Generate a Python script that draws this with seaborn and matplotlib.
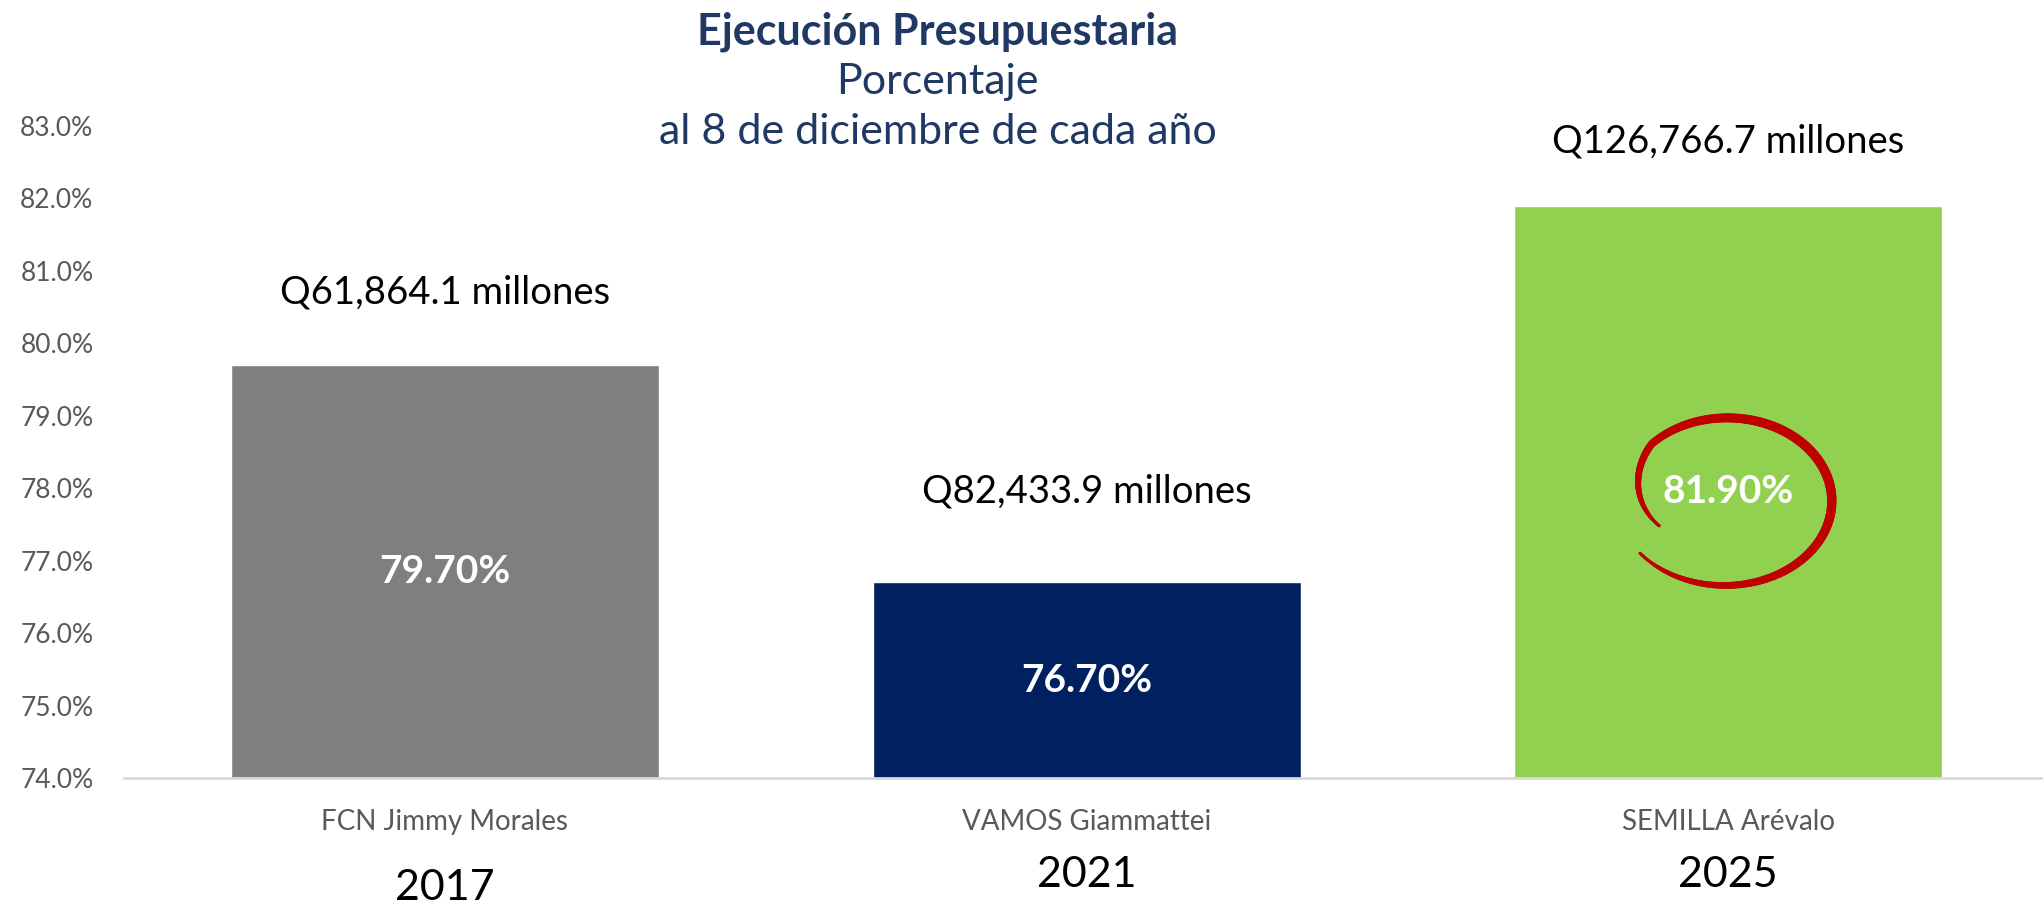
import numpy as np
import pandas as pd
import matplotlib.pyplot as plt
from matplotlib.collections import LineCollection
import seaborn as sns

# ==========================================
# DATOS
# ==========================================
partidos = ["FCN Jimmy Morales", "VAMOS Giammattei", "SEMILLA Arévalo"]
anios = ["2017", "2021", "2025"]
ejecucion = [79.7, 76.7, 81.9]
montos = ["Q61,864.1 millones", "Q82,433.9 millones", "Q126,766.7 millones"]
colores = ["#7F7F7F", "#002060", "#92D050"]

# posiciones (en %) de las cajas de texto del monto, puestas a mano en el original
monto_y = [80.70, 77.95, 82.78]
# posiciones (fraccion de figura) de los años, no todos alineados
anio_y = [0.021, 0.035, 0.035]

df = pd.DataFrame({"partido": partidos, "ejecucion": ejecucion})

# ==========================================
# GRAFICA
# ==========================================
sns.set_theme(style="white")
plt.rcParams["font.family"] = ["Lato", "DejaVu Sans"]

fig = plt.figure(figsize=(20.43, 9.07), dpi=100)
ax = fig.add_axes([124 / 2043, 129 / 907, 1 - 124 / 2043 + 0.003, (778 - 126) / 907])

sns.barplot(data=df, x="partido", y="ejecucion", hue="partido", palette=colores,
            width=0.667, legend=False, ax=ax, saturation=1)

ax.set_ylim(74, 83)
ax.set_xlim(-0.5, 2.5)
ax.set_yticks(np.arange(74, 83.5, 1))
ax.set_yticklabels([f"{v:.1f}%" for v in np.arange(74, 83.5, 1)], fontsize=19, color="#595959")
ax.tick_params(axis="y", length=0, pad=22)
ax.tick_params(axis="x", length=0, pad=22, labelsize=20, labelcolor="#595959")
ax.set_xlabel("")
ax.set_ylabel("")
for s in ["top", "right", "left"]:
    ax.spines[s].set_visible(False)
ax.spines["bottom"].set_color("#D9D9D9")
ax.spines["bottom"].set_linewidth(2)

# etiquetas dentro de las barras
for i, v in enumerate(ejecucion):
    ax.text(i, (74 + v) / 2, f"{v:.2f}%", ha="center", va="center",
            color="white", fontsize=28, fontweight="bold")
    ax.text(i, monto_y[i], montos[i], ha="center", va="center",
            color="black", fontsize=27.5)

# años debajo de cada categoria
for i, a in enumerate(anios):
    xf = ax.transData.transform((i, 74))[0] / fig.bbox.width
    fig.text(xf, anio_y[i], a, ha="center", va="center", fontsize=31, color="black")

# titulo
azul = "#203864"
fig.text(0.459, 0.965, "Ejecución Presupuestaria", ha="center", va="center",
         fontsize=31, fontweight="bold", color=azul)
fig.text(0.459, 0.910, "Porcentaje", ha="center", va="center", fontsize=31, color=azul)
fig.text(0.459, 0.855, "al 8 de diciembre de cada año", ha="center", va="center",
         fontsize=31, color=azul)

# circulo rojo a mano alzada alrededor del 81.90%
cx, cy = 1729, 907 - 500
t = np.linspace(0, 1, 300)
ang = np.deg2rad(218 + 348 * t)
f = np.where(t < 0.8, 1.08 - 0.08 * t, 1.016 - (t - 0.8) * 1.4)
xs = cx + 101 * f * np.cos(ang) - 3
ys = cy + 80 * f * np.sin(ang)
pts = np.column_stack([xs / 2043, ys / 907]).reshape(-1, 1, 2)
segs = np.concatenate([pts[:-1], pts[1:]], axis=1)
ancho = 6.0 * np.sin(np.pi * np.clip(t[:-1], 0.02, 0.98)) ** 0.5 + 0.8
lc = LineCollection(segs, linewidths=ancho, colors="#C00000", transform=fig.transFigure,
                    capstyle="round")
fig.add_artist(lc)

plt.savefig("out.png", dpi=100)
